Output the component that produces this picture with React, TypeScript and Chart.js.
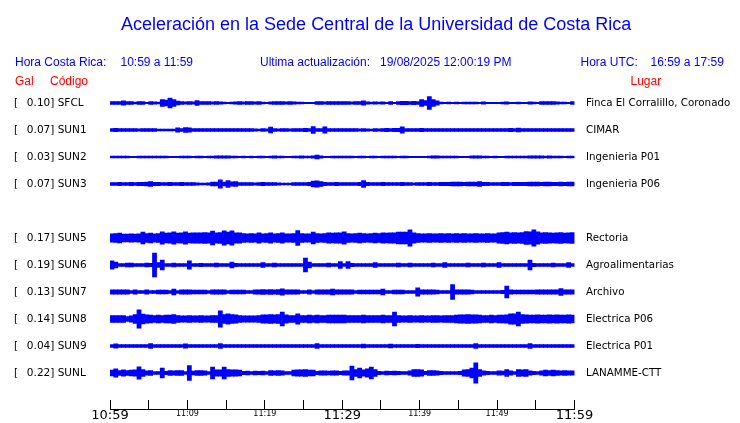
import React, { useEffect, useRef } from "react";
import { Chart, registerables } from "chart.js";

Chart.register(...registerables);

// ---- data ----
const stationCodes = ["SFCL", "SUN1", "SUN2", "SUN3", "SUN5", "SUN6", "SUN7", "SUN8", "SUN9", "SUNL"];
const peakGal = ["0.10", "0.07", "0.03", "0.07", "0.17", "0.19", "0.13", "0.14", "0.04", "0.22"];
const places = [
  "Finca El Corralillo, Coronado",
  "CIMAR",
  "Ingenieria P01",
  "Ingenieria P06",
  "Rectoria",
  "Agroalimentarias",
  "Archivo",
  "Electrica P06",
  "Electrica P01",
  "LANAMME-CTT",
];
// row slot of each station (slot 4 is empty)
const rowSlots = [0, 1, 2, 3, 5, 6, 7, 8, 9, 10];
const timeTickLabels = ["10:59", "", "11:09", "", "11:19", "", "11:29", "", "11:39", "", "11:49", "", "11:59"];
const majorTickLabels = ["10:59", "11:29", "11:59"];

// half-amplitude envelopes (display px), one value per half minute, 10:59 -> 11:59
const ampSFCL = [
  1.3, 1.3, 1.3, 2, 1.3, 1.3, 0.8, 1.3, 1.3, 0.5,
  1.3, 1, 0.8, 3.3, 2.7, 4.7, 3.3, 1.7, 1.3, 1,
  1.3, 1, 2.3, 1.3, 1.3, 1.3, 1, 1.3, 1, 0.8,
  0.5, 0.8, 1, 1.3, 1, 1.3, 1.3, 1, 1.3, 0.8,
  0.5, 1, 1.3, 1.3, 1.3, 1, 1.3, 1, 0.8, 0.8,
  0.5, 0.5, 0.5, 1.3, 1.3, 1, 1.3, 1.3, 1.3, 1.3,
  1.3, 1.3, 1, 1.3, 1.3, 2, 1, 0.8, 1, 0.8,
  1, 0.5, 1.3, 0.5, 1.3, 1.6, 1.6, 1.3, 1.6, 1.3,
  3.3, 2.3, 6.3, 3.3, 2, 0.8, 0.5, 0.8, 0.5, 0.8,
  0.5, 0.8, 0.7, 0.8, 0.8, 0.5, 1, 0.5, 0.5, 0.5,
  0.5, 0.7, 1, 0.5, 0.5, 0.8, 0.5, 0.5, 1, 0.8,
  0.5, 1.3, 1.3, 1.3, 1.3, 1, 0.8, 0.7, 0.5, 1.3,
];
const ampSUN1 = [
  1.3, 1.5, 1.3, 1.3, 1.3, 1.3, 1.3, 1, 1.3, 1.3,
  1.3, 1.3, 0.8, 0.7, 0.7, 0.7, 0.8, 2, 1.3, 2.3,
  2, 1.3, 1.3, 1.3, 1.3, 1.3, 1.3, 1.3, 1.3, 1.3,
  1.3, 1.3, 1.3, 1.3, 1.3, 1.3, 1.3, 1, 0.8, 1.3,
  1, 2.7, 1.3, 1, 1.3, 1.3, 1, 1.3, 1.3, 1.3,
  1.6, 1.3, 3.3, 1.3, 1.3, 3, 1.3, 1.3, 1.3, 1.3,
  1.3, 1.3, 1.3, 1.3, 1, 1.3, 1, 0.8, 1.3, 1,
  1.3, 1.6, 1.3, 1.6, 1.6, 3, 1.3, 1.3, 1.3, 1.3,
  1.6, 1.3, 1.3, 1.3, 1.3, 1.3, 1.3, 1.3, 1.3, 1.3,
  1.3, 1.3, 1.3, 1.3, 1.3, 1.3, 1.3, 1.3, 1.3, 1.3,
  1.3, 1.3, 1.3, 1.6, 1.3, 1.7, 1.3, 1.3, 1.3, 1.3,
  1.3, 1.3, 1.3, 1.3, 1.3, 1.3, 1.3, 1.3, 1.3, 1.3,
];
const ampSUN2 = [
  0.8, 0.8, 0.8, 0.8, 0.8, 0.5, 0.5, 0.8, 0.8, 0.8,
  0.7, 0.8, 0.7, 0.8, 0.7, 0.5, 0.5, 0.5, 0.8, 0.8,
  0.7, 0.5, 0.8, 0.7, 0.5, 0.8, 0.8, 1, 1, 1,
  1, 0.8, 0.8, 0.5, 0.7, 0.5, 0.7, 0.5, 0.8, 0.8,
  0.5, 0.8, 1, 0.8, 0.8, 0.5, 0.5, 0.8, 0.8, 1,
  0.8, 0.8, 1, 1.7, 1, 0.5, 0.5, 0.8, 0.8, 0.8,
  0.8, 0.8, 0.8, 0.5, 0.8, 0.8, 0.5, 0.8, 0.7, 0.5,
  0.8, 0.7, 0.8, 0.7, 0.5, 0.8, 0.7, 0.5, 0.5, 0.5,
  0.5, 0.5, 0.8, 1, 1, 0.8, 0.8, 0.7, 0.7, 0.8,
  0.5, 0.5, 0.5, 1, 1, 1, 0.8, 0.7, 0.5, 0.7,
  0.5, 0.5, 0.8, 0.8, 0.7, 0.8, 0.8, 0.8, 1, 1,
  1, 1, 0.8, 1, 0.8, 0.7, 0.8, 0.5, 0.8, 0.8,
];
const ampSUN3 = [
  1.3, 1.3, 1.5, 1.3, 1.3, 1.5, 1.3, 1.5, 1.5, 1.7,
  2.3, 1.5, 1.5, 1.3, 1.3, 1.5, 1.3, 1.3, 1.5, 1.3,
  1.3, 1.3, 1, 0.8, 0.8, 1, 1.7, 1.7, 4, 1.7,
  3.3, 2, 2.3, 1.3, 1.3, 1.3, 1.3, 1, 1.3, 1.5,
  1.3, 1.3, 1.3, 1, 0.8, 0.8, 0.8, 1.3, 1.3, 1.3,
  1.3, 1.5, 2.7, 3, 2.3, 1.5, 1.3, 1.3, 1.5, 1.3,
  1.3, 1.3, 1.3, 1.3, 1.5, 3.3, 1.5, 1.3, 1.3, 1.3,
  1.5, 1.3, 1.3, 1.3, 1.3, 1.5, 1.3, 1.3, 1, 1.3,
  1.3, 1.3, 1.5, 1.3, 1.3, 1.5, 1.5, 1.5, 1.7, 1.7,
  1.7, 1.5, 1.7, 1.7, 1.7, 2.3, 1.5, 1.5, 1.3, 1.3,
  1.3, 1.5, 1.5, 1.3, 1.5, 1.5, 1.5, 1.5, 1.7, 1.7,
  1.7, 1.5, 1.7, 1.7, 1.5, 1.5, 1.7, 1.5, 1.7, 1.7,
];
const ampSUN5 = [
  4, 4.3, 4.7, 3.7, 3.7, 4, 3.7, 4, 5.7, 4.3,
  4.7, 4, 4.3, 6, 4.7, 5, 6, 4.7, 5, 6,
  4.7, 5, 5, 5, 5.3, 5, 6.7, 5, 5.3, 7,
  5.7, 7, 5, 5, 4.3, 4, 4.3, 4, 5, 4,
  4.3, 5, 4, 4.3, 5, 4, 4, 4.3, 7.3, 4.3,
  4, 4, 5.7, 4.3, 4, 4.3, 5, 4.7, 5, 5,
  6, 4.3, 4, 4.3, 4.7, 4.3, 4, 4.3, 4.7, 4.3,
  5, 4.7, 5, 5, 5.7, 5.7, 5.7, 8, 5, 4.3,
  4, 4, 4.3, 4, 4, 4.3, 4, 4.3, 4, 4.3,
  4, 4.3, 4, 4, 4.3, 4, 4, 4.3, 4, 4,
  5, 5.3, 5.7, 5, 5.3, 5, 5.3, 6.3, 6, 8,
  6, 5, 5.3, 5, 4.7, 5, 5.3, 4.7, 5, 5.3,
];
const ampSUN6 = [
  4, 2.7, 1.3, 1.3, 1.7, 1.7, 1.3, 1.3, 1.3, 1.7,
  1.5, 11.7, 2.3, 4.7, 1.3, 1.3, 1.7, 1.3, 1.3, 1.3,
  4, 1.3, 1.3, 1.5, 1.3, 1.3, 1.3, 1.7, 1.3, 1.3,
  1.3, 2.7, 1.5, 1.3, 1.3, 1.3, 1.3, 1.3, 1.3, 2.3,
  1.3, 1.3, 1.7, 1.3, 1.3, 1.3, 1.3, 1.3, 1.3, 1.3,
  6.7, 2.7, 1.3, 1.3, 1.3, 1.3, 1.7, 1.3, 1.3, 3.3,
  1.3, 3.3, 1.5, 1.3, 1.3, 1.3, 1.3, 1.3, 2.3, 1.3,
  1.3, 1.3, 1.3, 1.3, 1.7, 1.3, 1.3, 1.7, 1.3, 1.3,
  1.3, 1.3, 1.3, 1.7, 1.3, 1.3, 2.3, 1.3, 1.3, 1.3,
  1.3, 1.3, 1.7, 1.3, 1.3, 1.3, 1.7, 1.3, 1.3, 1.3,
  2.3, 1.3, 1.3, 1.3, 1.3, 1.3, 1.3, 1.3, 4.7, 1.5,
  1.3, 1.3, 1.3, 1.3, 1.7, 1.3, 1.3, 1.3, 2.3, 1.3,
];
const ampSUN7 = [
  2, 2, 2, 2, 2, 1.3, 2, 1.3, 1.3, 2,
  1.3, 1.3, 1.7, 1.7, 1.7, 1.3, 2.7, 1.3, 2, 2,
  2, 1.7, 1.7, 1.7, 1.7, 1.3, 2, 2, 2, 2,
  1.3, 1.7, 1.7, 1.7, 1.7, 1.3, 1.3, 2, 2, 2.3,
  2, 2.3, 2, 2.3, 3, 2, 2, 2, 2, 1.3,
  1.3, 2, 1.3, 2, 2, 2, 2, 2.7, 2, 2,
  2, 2, 2, 1.3, 1.7, 1.7, 1.7, 1.7, 1.7, 1.7,
  2.7, 1.3, 1.3, 1.7, 1.7, 1.7, 1.3, 1.3, 1.3, 4,
  2, 2, 2, 2, 1.7, 1.3, 1.3, 1.3, 7.3, 2,
  2, 2, 2, 1.7, 1.3, 1.3, 1.3, 1.3, 1.3, 1.3,
  1.3, 1.5, 5.7, 2, 1.7, 1.7, 1.7, 1.7, 1.7, 1.7,
  2, 2, 2, 2, 2, 2, 3.3, 2, 2, 2,
];
const ampSUN8 = [
  3.3, 3.3, 3.3, 3.3, 2.3, 3, 4.3, 9, 4.7, 4,
  3.7, 3.3, 3.7, 3.3, 3.7, 3.7, 4.3, 3.3, 3, 3,
  3.3, 3, 3, 3.3, 3, 3, 3.3, 3.3, 8, 4.3,
  5, 4.3, 4, 3.3, 3, 3, 3, 3, 3.3, 4,
  4, 4.3, 4, 4.3, 6.7, 4, 3.3, 3.3, 5, 3.3,
  3.3, 3.7, 3.3, 3.7, 3.3, 3.3, 3.7, 3.7, 3.7, 3.7,
  3.7, 3.3, 3.3, 3.3, 3.3, 3.7, 3.3, 3.3, 3.3, 3.3,
  3.7, 3.3, 3.3, 6.7, 3.3, 3, 3, 3.3, 3, 3,
  3.3, 3, 3, 3.3, 3.3, 3, 3.3, 3.3, 3.3, 3.7,
  4, 4, 4.3, 4, 4, 3.7, 3.3, 3.3, 3.7, 3.3,
  3.7, 3.7, 4, 5, 5, 6.7, 4.3, 4, 3.7, 3.7,
  4, 3.7, 3.7, 4, 3.7, 4, 3.7, 3.7, 4, 3.7,
];
const ampSUN9 = [
  1.3, 2, 1.3, 1.3, 1.3, 1.3, 1.3, 1.3, 1.3, 1.3,
  2.3, 1.3, 1.3, 1.3, 1.3, 1.3, 1.3, 1.3, 1.3, 2,
  1.3, 1.3, 1.3, 1.3, 1.3, 1.3, 1.3, 1.3, 2.3, 1.3,
  1.3, 1.3, 1.3, 1.3, 1.3, 1.3, 1.3, 1.3, 1.3, 1.3,
  1.3, 1.3, 1.3, 1.3, 1.3, 1.3, 1.3, 1.3, 1.3, 1.3,
  1.3, 1.3, 1.3, 2.3, 1.3, 1.3, 1.3, 1.3, 1.3, 1.3,
  1.3, 1.3, 1.3, 1.3, 1.3, 1.7, 1.3, 1.3, 1.3, 1.3,
  1.3, 1.3, 1.7, 1.3, 1.3, 1.3, 1.3, 1.3, 1.3, 1.5,
  1.3, 1.3, 1.3, 1.3, 1.3, 1.3, 1.3, 1.3, 1.3, 1.3,
  1.3, 1.3, 1.3, 1.3, 2.3, 1.3, 1.3, 1.3, 1.3, 1.3,
  1.3, 1.3, 1.3, 1.3, 1.3, 1.3, 1.3, 1.3, 2.3, 1.3,
  1.3, 1.3, 1.3, 1.3, 1.3, 1.3, 1.3, 1.3, 1.3, 1.3,
];
const ampSUNL = [
  2.7, 4, 2.3, 3, 2.3, 2.7, 3, 6, 3.3, 2,
  2.3, 1.3, 1.3, 4.7, 1.5, 2.3, 2, 2.3, 2.3, 1.3,
  7.3, 1.7, 2.3, 2.3, 2, 1.3, 5.7, 3, 3, 5.7,
  3.3, 3, 3, 2.7, 1.5, 1.7, 1.3, 1.7, 1.5, 1.7,
  1.3, 2.3, 2, 2.3, 2, 1.3, 1.3, 2.7, 3, 3,
  3.3, 2.7, 2.7, 1.5, 2, 2, 1.7, 2, 2, 1.5,
  2, 2, 6.7, 3.3, 4.7, 3, 4, 5.7, 3.3, 1.5,
  1.3, 1.7, 1.5, 1.7, 1.5, 1.3, 1.3, 2, 3.3, 3.3,
  3, 1.5, 2.3, 2.3, 2, 1.5, 1.3, 1.3, 1.3, 1.3,
  1.5, 3, 3.3, 4.7, 10, 3.3, 2, 1.5, 1.3, 1.3,
  2, 1.7, 3.3, 2, 1.3, 3.3, 3, 3.3, 2, 1.5,
  1.3, 2, 2.7, 2.3, 2.7, 2.3, 2, 2.3, 2, 2,
];
const stationAmps = [ampSFCL, ampSUN1, ampSUN2, ampSUN3, ampSUN5, ampSUN6, ampSUN7, ampSUN8, ampSUN9, ampSUNL];

// sample times (minutes after 10:59) at centre of each half-minute bin
const sampleMinutes = ampSFCL.map((_, i) => i * 0.5 + 0.25);

// ---- layout / style ----
const ROW = 27;
const BLUE = "#0000ff";
const RED = "#ff0000";
const SANS = '"Liberation Sans", Arial, sans-serif';
const DEJAVU = "DejaVu Sans";

export default function App() {
  const canvasRef = useRef<HTMLCanvasElement | null>(null);

  useEffect(() => {
    const canvas = canvasRef.current;
    if (!canvas) return;

    const datasets: any[] = stationCodes.map((code, k) => {
      const base = rowSlots[k] * ROW;
      return {
        type: "bar",
        label: code,
        data: stationAmps[k].map((a, i) => ({ x: sampleMinutes[i], y: [base - a, base + a] })),
        backgroundColor: BLUE,
        borderWidth: 0,
        inflateAmount: 0.45,
        grouped: false,
        barPercentage: 1,
        categoryPercentage: 1,
        yAxisID: "y",
        xAxisID: "x",
      };
    });

    const rowTickBuilder = (s: any) => {
      s.ticks = rowSlots.map((slot) => ({ value: slot * ROW }));
    };
    const rowIndex = (v: number) => rowSlots.indexOf(Math.round(Number(v) / ROW));

    const chart = new Chart(canvas, {
      type: "bar",
      data: { datasets },
      options: {
        animation: false,
        responsive: false,
        devicePixelRatio: 1,
        layout: { padding: { left: 14, top: 88, right: 0, bottom: 0 } },
        plugins: { legend: { display: false }, tooltip: { enabled: false }, title: { display: false } },
        scales: {
          x: {
            type: "linear",
            position: "bottom",
            min: 0,
            max: 60,
            offset: false,
            afterFit: (s: any) => {
              s.height = 14;
            },
            grid: {
              display: true,
              drawOnChartArea: false,
              drawTicks: true,
              tickLength: -9,
              color: "#000",
              lineWidth: 1,
              offset: false,
            },
            border: { display: true, color: "#000", width: 1 },
            ticks: {
              stepSize: 5,
              autoSkip: false,
              maxRotation: 0,
              minRotation: 0,
              padding: 7.4,
              color: "#000",
              font: (ctx: any) => {
                const lbl = timeTickLabels[ctx.index] || "";
                return majorTickLabels.includes(lbl)
                  ? { family: DEJAVU, size: 13, lineHeight: 1.2 }
                  : { family: DEJAVU, size: 8, lineHeight: 1.7 };
              },
              callback: (v: any) => timeTickLabels[Math.round(Number(v) / 5)] ?? "",
            },
          },
          y: {
            type: "linear",
            position: "left",
            reverse: true,
            min: -15,
            max: 306,
            grid: { display: false, drawTicks: false },
            border: { display: false },
            afterBuildTicks: rowTickBuilder,
            afterFit: (s: any) => {
              s.width = 96;
              s.paddingTop = 0;
              s.paddingBottom = 0;
            },
            ticks: {
              autoSkip: false,
              crossAlign: "far",
              padding: 0,
              color: "#000",
              font: { family: DEJAVU, size: 10.5 },
              callback: (v: any) => {
                const k = rowIndex(v);
                return k >= 0 ? `[  \u2009${peakGal[k]}] ${stationCodes[k]}` : "";
              },
            },
          },
          y2: {
            type: "linear",
            position: "right",
            reverse: true,
            min: -15,
            max: 306,
            display: true,
            grid: { display: false, drawTicks: false },
            border: { display: false },
            afterBuildTicks: rowTickBuilder,
            afterFit: (s: any) => {
              s.width = 165.5;
              s.paddingTop = 0;
              s.paddingBottom = 0;
            },
            ticks: {
              autoSkip: false,
              crossAlign: "near",
              padding: 11.5,
              color: "#000",
              font: { family: DEJAVU, size: 10.3 },
              callback: (v: any) => {
                const k = rowIndex(v);
                return k >= 0 ? places[k] : "";
              },
            },
          },
        },
      } as any,
    });

    return () => chart.destroy();
  }, []);

  const line12: React.CSSProperties = {
    position: "absolute",
    fontFamily: SANS,
    fontSize: 12,
    lineHeight: "12px",
    whiteSpace: "pre",
    color: BLUE,
  };

  return (
    <div style={{ position: "absolute", left: 0, top: 0, width: 740, height: 423, background: "#fff", overflow: "hidden" }}>
      <canvas ref={canvasRef} width={740} height={423} style={{ display: "block", position: "absolute", left: 0, top: 0 }} />
      <div
        style={{
          position: "absolute",
          left: 121,
          top: 15,
          fontFamily: SANS,
          fontSize: 18,
          lineHeight: "18px",
          whiteSpace: "pre",
          color: BLUE,
        }}
      >
        Aceleración en la Sede Central de la Universidad de Costa Rica
      </div>
      <div style={{ ...line12, left: 15, top: 56 }}>Hora Costa Rica:</div>
      <div style={{ ...line12, left: 120.5, top: 56 }}>10:59 a 11:59</div>
      <div style={{ ...line12, left: 260, top: 56 }}>Ultima actualización:</div>
      <div style={{ ...line12, left: 380, top: 56 }}>19/08/2025 12:00:19 PM</div>
      <div style={{ ...line12, left: 580.5, top: 56 }}>Hora UTC:</div>
      <div style={{ ...line12, left: 650.5, top: 56 }}>16:59 a 17:59</div>
      <div style={{ ...line12, left: 15, top: 74.5, color: RED }}>Gal</div>
      <div style={{ ...line12, left: 50, top: 74.5, color: RED }}>Código</div>
      <div style={{ ...line12, left: 630.5, top: 74.5, color: RED }}>Lugar</div>
    </div>
  );
}
